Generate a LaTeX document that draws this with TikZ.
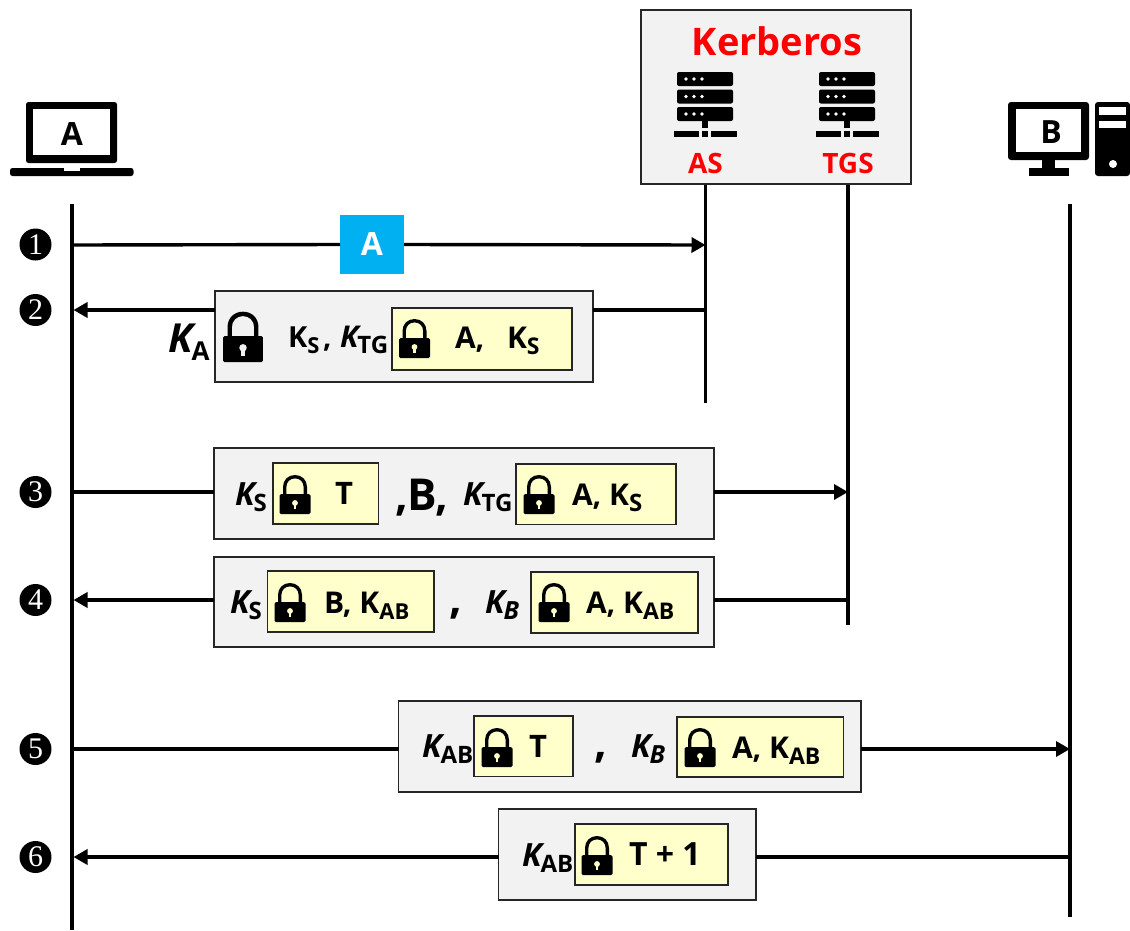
\documentclass[tikz,border=0pt]{standalone}
\usepackage{fontspec}
\setmainfont{Open Sans}
\newfontfamily\numfont{Liberation Serif}
\usetikzlibrary{arrows.meta}
\definecolor{boxgrey}{HTML}{F2F2F2}
\definecolor{boxyellow}{HTML}{FFFFCC}
\definecolor{edgedark}{HTML}{262626}
\definecolor{msgblue}{HTML}{00B0F0}
\newcommand{\fs}[1]{\fontsize{#1}{#1}\selectfont}
% key label: italic K with a lowered subscript
\newcommand{\keyK}[4][]{{\fs{#2}\itshape K}\kern-1pt\raisebox{-#4pt}{\fs{#3}#1}}
\newcommand{\plainK}[4][]{{\fs{#2}K}\raisebox{-#4pt}{\fs{#3}#1}}
\tikzset{
  greybox/.style={draw=edgedark,fill=boxgrey,line width=1.6pt,inner sep=0pt,outer sep=0pt},
  yellowbox/.style={draw=edgedark,fill=boxyellow,line width=1.4pt,inner sep=0pt,outer sep=0pt},
  lbl/.style={anchor=base west,inner sep=0pt,outer sep=0pt,font=\bfseries,text=black},
  redlbl/.style={inner sep=0pt,outer sep=0pt,font=\bfseries,text=red},
  stepnum/.style={circle,fill=black,text=white,minimum size=32pt,inner sep=0pt,font=\numfont\fs{30}},
  life/.style={line width=3.4pt,draw=black},
  msg/.style={line width=3.4pt,draw=black},
  msgtip/.style={msg,-{Triangle[length=14pt,width=15pt]}},
  lockicon/.pic={
    \fill[black,rounded corners=1.5pt] (-15.5,-20) rectangle (15.5,0);
    \fill[black] (-12,-19) -- (-12,-27) .. controls (-12,-34) and (-7,-39) .. (0,-39)
      .. controls (7,-39) and (12,-34) .. (12,-27) -- (12,-19) -- (8.6,-19) -- (8.6,-27)
      .. controls (8.6,-32) and (5,-35.6) .. (0,-35.6) .. controls (-5,-35.6) and (-8.6,-32) .. (-8.6,-27)
      -- (-8.6,-19) -- cycle;
    \fill[#1] (0,-11) circle[radius=2.9pt];
    \fill[#1] (-1.2,-11) rectangle (1.2,-5);
  },
  racks/.pic={
    \foreach \yy in {72,89.5,107}{
      \fill[black,rounded corners=2pt] (-28,\yy) rectangle (28,\yy+14);
      \foreach \xx in {-19,-11,-3}{\fill[white] (\xx,\yy+7) circle[radius=1.8pt];}
    }
    \fill[black] (-3,121) rectangle (3,128);
    \fill[black] (-31,131) rectangle (-6,137);
    \fill[black] (-3,131) rectangle (3,137);
    \fill[black] (6,131) rectangle (32,137);
  }
}
\begin{document}
\begin{tikzpicture}[x=1pt,y=-1pt]
\useasboundingbox (0,0) rectangle (1130,930);

% --- coordinates on the lifelines
\coordinate (atop) at (72,204);   \coordinate (abot) at (72,930);
\coordinate (astop) at (705.5,184); \coordinate (asbot) at (705.5,403);
\coordinate (ttop) at (848,184);  \coordinate (tbot) at (848,625);
\coordinate (btop) at (1070,204); \coordinate (bbot) at (1070,917);
\coordinate (a1) at (72,245);  \coordinate (s1) at (705.5,245);
\coordinate (a2) at (73.5,310);  \coordinate (s2) at (705.5,310);
\coordinate (a3) at (72,492);  \coordinate (t3) at (848,492);
\coordinate (a4) at (73.5,600);  \coordinate (t4) at (848,600);
\coordinate (a5) at (72,749);  \coordinate (b5) at (1070,749);
\coordinate (a6) at (73.5,857);  \coordinate (b6) at (1070,857);

% --- lifelines
\draw[life] (atop) -- (abot);
\draw[life] (astop) -- (asbot);
\draw[life] (ttop) -- (tbot);
\draw[life] (btop) -- (bbot);

% --- Kerberos box
\node[greybox,minimum width=270pt,minimum height=174pt] (kdc) at (776,97) {};
\node[redlbl,font=\bfseries\fs{38}] (kname) at (777,41) {Kerberos};
\pic at (705,0) {racks};
\pic at (847,0) {racks};
\node[redlbl,font=\bfseries\fs{28}] (asname) at (705.5,163) {AS};
\node[redlbl,font=\bfseries\fs{28}] (tgsname) at (848,163) {TGS};

% --- laptop A
\fill[black,rounded corners=2.5pt] (26,102) rectangle (117,163);
\fill[white] (33,109) rectangle (110,155);
\fill[black,rounded corners=2.5pt] (10,168) rectangle (133.5,176);
\fill[white] (64,168) rectangle (80,170.5);
\node[inner sep=0pt,font=\bfseries\fs{32}] (hosta) at (72,134) {A};

% --- desktop B
\fill[black,rounded corners=3pt] (1008,102) rectangle (1089,160);
\fill[white] (1016,109) rectangle (1081,152);
\fill[black] (1042,159) rectangle (1055,170);
\fill[black] (1029,168) rectangle (1069,176);
\fill[black,rounded corners=3pt] (1095,102) rectangle (1130,176);
\fill[white] (1099,107) rectangle (1126,115);
\fill[white] (1099,121) rectangle (1126,128);
\fill[white] (1113,164) circle[radius=4pt];
\node[inner sep=0pt,font=\bfseries\fs{32}] (hostb) at (1051,132) {B};

% --- step numbers
\node[stepnum] (n1) at (35.5,244.5) {1};
\node[stepnum] (n2) at (35.5,310) {2};
\node[stepnum] (n3) at (35.5,492) {3};
\node[stepnum] (n4) at (35.5,600) {4};
\node[stepnum] (n5) at (35.5,749) {5};
\node[stepnum] (n6) at (35.5,857) {6};

% --- message 1
\node[fill=msgblue,minimum width=64pt,minimum height=59pt,inner sep=0pt,outer sep=0pt,text=white,font=\bfseries\fs{32}] (m1) at (372,244.5) {A};
\draw[msg] (a1) -- (m1.west);
\draw[msgtip] (m1.east) -- (s1);

% --- message 2
\node[greybox,minimum width=378pt,minimum height=91pt] (m2) at (404,336.5) {};
\node[yellowbox,minimum width=180pt,minimum height=62pt] (y2) at (482,339) {};
\draw[msgtip] (m2.west |- a2) -- (a2);
\draw[msg] (s2) -- (m2.east |- s2);
\pic[scale=1.29] at (243,362) {lockicon=boxgrey};
\pic at (414.5,358) {lockicon=boxyellow};
\node[lbl] (k2a) at (168,352) {\keyK[A]{40}{26}{8}};
\node[lbl] (k2b) at (288,347) {\plainK[S]{29}{22}{6}};
\node[lbl] (c2) at (323,347) {\fs{29},};
\node[lbl] (k2c) at (340,347) {\keyK[TG]{30}{24}{6}};
\node[lbl] (t2a) at (455,348) {\fs{30}A,};
\node[lbl] (t2b) at (507,348) {\plainK[S]{30}{23}{6}};

% --- message 3
\node[greybox,minimum width=500pt,minimum height=91pt] (m3) at (464,493.5) {};
\node[yellowbox,minimum width=105.5pt,minimum height=61pt] (y3a) at (325.75,493.5) {};
\node[yellowbox,minimum width=160pt,minimum height=60.5pt] (y3b) at (596,494.25) {};
\draw[msg] (a3) -- (m3.west |- a3);
\draw[msgtip] (m3.east |- t3) -- (t3);
\pic at (295,514) {lockicon=boxyellow};
\pic at (539,514) {lockicon=boxyellow};
\node[lbl] (k3a) at (235,505) {\keyK[S]{32}{24}{6}};
\node[lbl,anchor=base] (t3a) at (344,504) {\fs{31}T};
\node[lbl] (t3b) at (395,510) {\fs{44},B,};
\node[lbl] (k3b) at (463,505) {\keyK[TG]{32}{24}{6}};
\node[lbl] (t3c) at (572,505) {\fs{30}A, \plainK[S]{30}{24}{6}};

% --- message 4
\node[greybox,minimum width=500pt,minimum height=90pt] (m4) at (464,602) {};
\node[yellowbox,minimum width=166.5pt,minimum height=61pt] (y4a) at (350.75,601.5) {};
\node[yellowbox,minimum width=167pt,minimum height=61pt] (y4b) at (614.5,602.5) {};
\draw[msgtip] (m4.west |- a4) -- (a4);
\draw[msg] (t4) -- (m4.east |- t4);
\pic at (290,622) {lockicon=boxyellow};
\pic at (554,622) {lockicon=boxyellow};
\node[lbl] (k4a) at (230,613) {\keyK[S]{32}{24}{6}};
\node[lbl] (t4a) at (324,613) {\fs{30}B, \plainK[AB]{30}{22}{6}};
\node[lbl] (c4) at (449,613) {\fs{44},};
\node[lbl] (k4b) at (485,613) {\keyK[\itshape B]{32}{25}{6}};
\node[lbl] (t4b) at (586,613) {\fs{30}A, \plainK[AB]{30}{23}{6}};

% --- message 5
\node[greybox,minimum width=462.5pt,minimum height=91pt] (m5) at (629.75,746.5) {};
\node[yellowbox,minimum width=99pt,minimum height=60.5pt] (y5a) at (523.5,746.25) {};
\node[yellowbox,minimum width=166.5pt,minimum height=60pt] (y5b) at (760.25,747) {};
\draw[msg] (a5) -- (m5.west |- a5);
\draw[msgtip] (m5.east |- b5) -- (b5);
\pic at (497,767) {lockicon=boxyellow};
\pic at (700,767) {lockicon=boxyellow};
\node[lbl] (k5a) at (422,757) {\keyK[AB]{32}{24}{6}};
\node[lbl,anchor=base] (t5a) at (538,757) {\fs{31}T};
\node[lbl] (c5) at (594,757) {\fs{44},};
\node[lbl] (k5b) at (631,757) {\keyK[\itshape B]{32}{25}{6}};
\node[lbl] (t5b) at (732,758) {\fs{30}A, \plainK[AB]{30}{23}{6}};

% --- message 6
\node[greybox,minimum width=257.5pt,minimum height=91pt] (m6) at (627.25,854.5) {};
\node[yellowbox,minimum width=153pt,minimum height=61pt] (y6) at (651.5,854.5) {};
\draw[msgtip] (m6.west |- a6) -- (a6);
\draw[msg] (b6) -- (m6.east |- b6);
\pic at (597,875) {lockicon=boxyellow};
\node[lbl] (k6a) at (522,866) {\keyK[AB]{32}{24}{6}};
\node[lbl] (t6a) at (629,865) {\fs{32}T + 1};
\end{tikzpicture}
\end{document}
